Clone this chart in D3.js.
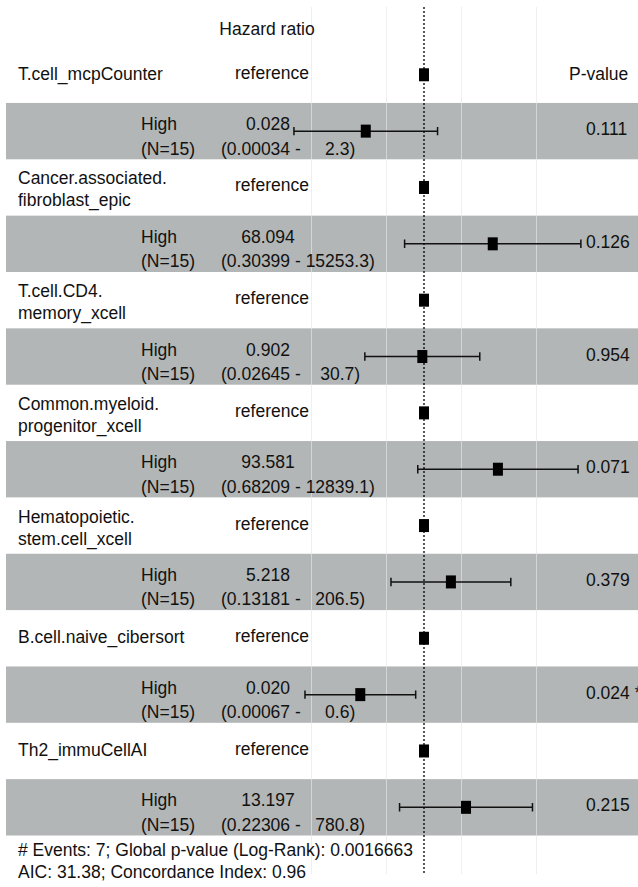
<!DOCTYPE html>
<html lang="en">
<head>
  <meta charset="UTF-8">
  <title>Hazard ratio forest plot</title>
  <style>
    body {
      margin: 0;
      padding: 0;
      background-color: #ffffff;
    }

    svg {
      display: block;
      font-family: 'Liberation Sans', Arial, sans-serif;
    }

    .label text {
      font-size: 17.5px;
      fill: #111;
      white-space: pre;
    }

    .band {
      fill: #b3b6b6;
    }

    .grid line {
      stroke: #e6e6e6;
      stroke-opacity: 0.65;
      stroke-width: 1;
    }

    .ref-line {
      stroke: #000;
      stroke-width: 1.3;
      stroke-dasharray: 2 2;
    }

    .whisker {
      stroke: #111;
      stroke-width: 1.5;
      fill: none;
    }
  </style>
</head>
<body>
  <svg width="638" height="887"></svg>

  <script src="https://d3js.org/d3.v7.min.js"></script>
  <script>
    // one entry per covariate, the reference row is drawn above each "High" row
    const variables = [
      "T.cell_mcpCounter",
      "Cancer.associated.\nfibroblast_epic",
      "T.cell.CD4.\nmemory_xcell",
      "Common.myeloid.\nprogenitor_xcell",
      "Hematopoietic.\nstem.cell_xcell",
      "B.cell.naive_cibersort",
      "Th2_immuCellAI"
    ];
    const levels = ["High", "High", "High", "High", "High", "High", "High"];
    const nHigh = [15, 15, 15, 15, 15, 15, 15];
    const hazardRatio = [0.028, 68.094, 0.902, 93.581, 5.218, 0.020, 13.197];
    const ciLow = [0.00034, 0.30399, 0.02645, 0.68209, 0.13181, 0.00067, 0.22306];
    const ciHigh = [2.3, 15253.3, 30.7, 12839.1, 206.5, 0.6, 780.8];
    const pValues = ["0.111", "0.126", "0.954", "0.071", "0.379", "0.024 *", "0.215"];
    const gridBreaks = [0.001, 0.1, 10, 1000];
    const footer = [
      "# Events: 7; Global p-value (Log-Rank): 0.0016663",
      "AIC: 31.38; Concordance Index: 0.96"
    ];

    const svg = d3.select("svg");
    const width = +svg.attr("width");

    // rows: reference / High for each variable
    const rows = [];
    variables.forEach((v, i) => {
      rows.push({ ref: true, i: i });
      rows.push({ ref: false, i: i });
    });

    const y = d3.scaleBand()
      .domain(d3.range(rows.length))
      .range([46.6, 835.5]);

    const x = d3.scaleLog()
      .domain([0.001, 1000])
      .range([311.5, 536.5]);

    const panelTop = 7;
    const panelBottom = 874;
    const cy = (k) => y(k) + y.bandwidth() / 2;

    // alternating bands
    svg.append("g")
      .selectAll("rect")
      .data(rows.map((r, k) => k).filter((k) => k % 2 === 1))
      .enter()
      .append("rect")
      .attr("class", "band")
      .attr("x", 6)
      .attr("width", width - 6)
      .attr("y", (k) => y(k))
      .attr("height", y.bandwidth());

    // vertical grid
    svg.append("g")
      .attr("class", "grid")
      .selectAll("line")
      .data(gridBreaks)
      .enter()
      .append("line")
      .attr("x1", (d) => x(d))
      .attr("x2", (d) => x(d))
      .attr("y1", panelTop)
      .attr("y2", panelBottom);

    // error bars
    const capH = y.bandwidth() * 0.15;
    const bars = svg.append("g");
    rows.forEach((r, k) => {
      if (r.ref) return;
      const lo = x(ciLow[r.i]);
      const hi = x(ciHigh[r.i]);
      const yy = cy(k);
      bars.append("path")
        .attr("class", "whisker")
        .attr("d", `M${lo},${yy - capH / 2}V${yy + capH / 2}M${lo},${yy}H${hi}M${hi},${yy - capH / 2}V${yy + capH / 2}`);
    });

    // point estimates (reference rows sit on HR = 1)
    const sqW = 10;
    const sqH = 13;
    svg.append("g")
      .selectAll("rect")
      .data(rows)
      .enter()
      .append("rect")
      .attr("x", (r) => x(r.ref ? 1 : hazardRatio[r.i]) - sqW / 2)
      .attr("y", (r, k) => cy(k) - sqH / 2)
      .attr("width", sqW)
      .attr("height", sqH)
      .attr("fill", "#000");

    // dotted line at HR = 1
    svg.append("line")
      .attr("class", "ref-line")
      .attr("x1", x(1))
      .attr("x2", x(1))
      .attr("y1", panelTop)
      .attr("y2", panelBottom);

    // text
    const label = svg.append("g").attr("class", "label");
    const fmtHR = d3.format(".3f");
    const fmtLo = d3.format(".5f");
    const fmtHi = d3.format(".1f");

    label.append("text").attr("x", 267).attr("y", 35)
      .attr("text-anchor", "middle").text("Hazard ratio");
    label.append("text").attr("x", 569).attr("y", cy(0) + 5).text("P-value");

    rows.forEach((r, k) => {
      const c = cy(k);
      if (r.ref) {
        const lines = variables[r.i].split("\n");
        if (lines.length === 1) {
          label.append("text").attr("x", 18).attr("y", c + 5).text(lines[0]);
        } else {
          label.append("text").attr("x", 18).attr("y", c - 3).text(lines[0]);
          label.append("text").attr("x", 18).attr("y", c + 19).text(lines[1]);
        }
        label.append("text").attr("x", 272).attr("y", c + 4)
          .attr("text-anchor", "middle").text("reference");
      } else {
        label.append("text").attr("x", 141).attr("y", c - 1).text(levels[r.i]);
        label.append("text").attr("x", 141).attr("y", c + 23.5).text(`(N=${nHigh[r.i]})`);
        label.append("text").attr("x", 268).attr("y", c - 1)
          .attr("text-anchor", "middle").text(fmtHR(hazardRatio[r.i]));
        label.append("text").attr("x", 221).attr("y", c + 23.5)
          .text(`(${fmtLo(ciLow[r.i])} - ${fmtHi(ciHigh[r.i]).padStart(7, " ")})`);
        label.append("text").attr("x", 586).attr("y", c + 4).text(pValues[r.i]);
      }
    });

    label.selectAll("text.footer")
      .data(footer)
      .enter()
      .append("text")
      .attr("class", "footer")
      .attr("x", 18)
      .attr("y", (d, i) => 856 + i * 22)
      .text((d) => d);
  </script>
</body>
</html>
